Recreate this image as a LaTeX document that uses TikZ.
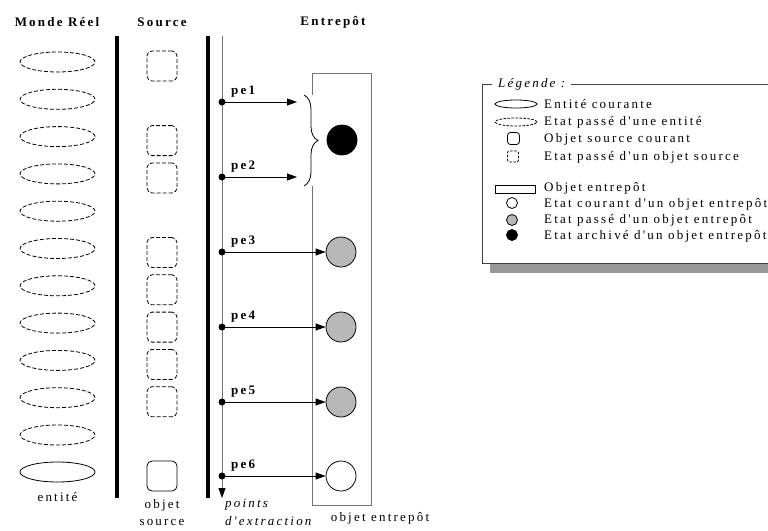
\documentclass[tikz,border=0pt]{standalone}
\usepackage{fontspec}
\setmainfont{Liberation Serif}[LetterSpace=17,Ligatures=TeXOff]
\usepackage{xcolor}
\usetikzlibrary{arrows.meta}
\usetikzlibrary{shapes.geometric}
\usetikzlibrary{decorations.pathreplacing}
\usetikzlibrary{positioning}

\definecolor{pastgray}{gray}{0.72}
\definecolor{linegray}{gray}{0.45}
\definecolor{shadowgray}{gray}{0.6}

\begin{document}
\begin{tikzpicture}[x=1pt,y=-1pt]
    \tikzstyle{every node}=[font=\fontsize{13}{15}\selectfont,inner sep=0pt,node distance=10pt]
    \tikzstyle{head}=[font=\fontsize{13}{15}\selectfont\bfseries]
    \tikzstyle{ent}=[draw=black,line width=0.8pt,ellipse,minimum width=75pt,minimum height=20pt]
    \tikzstyle{src}=[draw=black,line width=0.8pt,rounded corners=5pt,minimum size=30pt]
    \tikzstyle{past}=[dash pattern=on 4pt off 2pt]
    \tikzstyle{smallpast}=[dash pattern=on 2.5pt off 1.5pt]
    \tikzstyle{wstate}=[draw=black,line width=0.8pt,circle,minimum size=30pt]
    \tikzstyle{dot}=[fill=black,circle,minimum size=7pt]
    \tikzstyle{pe}=[-{Triangle[length=10pt,width=7pt]},line width=0.8pt]
    \tikzstyle{sep}=[line width=3.5pt]
    \tikzstyle{key}=[draw=black,line width=0.8pt]

    \clip (0,0) rectangle (768,530);

    % titres
    \node[head] (hmonde) at (57,22) {Monde Réel};
    \node[head] (hsource) at (162,22) {Source};
    \node[head] (hentrepot) at (333,22) {Entrepôt};

    \draw[sep] (117,36) -- (117,498);
    \draw[sep] (208,36) -- (208,498);

    % monde reel
    \foreach \i in {0,...,10}
      \node[ent,past] (e\i) at (57.5,62+37.3*\i) {};
    \node[ent] (e11) at (57.5,472) {};
    \node[below=of e11] (lent) {entité};

    % source
    \foreach \i in {0,2,3,5,6,7,8,9}
      \node[src,past] (s\i) at (162,66+37.3*\i) {};
    \node[src] (s11) at (162,476) {};
    \node[below=8pt of s11,align=center,font=\fontsize{13}{17}\selectfont] (lsrc) {objet\\source};

    % entrepot
    \node[draw=linegray,line width=0.8pt,minimum width=59pt,minimum height=432pt] (box) at (341.5,289) {};
    \node (lbox) at (380,518) {objet entrepôt};
    \node[wstate,fill=black] (c1) at (342,140) {};
    \foreach \i/\y in {3/252,4/327,5/402}
      \node[wstate,fill=pastgray] (c\i) at (341,\y) {};
    \node[wstate,fill=white] (c6) at (341,476) {};

    % points d'extraction
    \coordinate (t0) at (222,36);
    \coordinate (t1) at (222,498);
    \draw[linegray,line width=0.8pt,-{Triangle[length=10pt,width=7pt,color=black]}] (t0) -- (t1);
    \foreach \i/\y in {1/102,2/177,3/252,4/327,5/402,6/476}{
      \node[dot] (p\i) at (222,\y) {};
      \node[head,anchor=west] (l\i) at (231,\y-10) {pe\i};
    }
    \node[anchor=west,align=left,font=\fontsize{13}{18}\selectfont\itshape] (lpts) at (225,512) {points\\d'extraction};

    \coordinate (a1) at (297,102);
    \coordinate (a2) at (297,177);
    \draw[pe] (p1.center) -- (a1);
    \draw[pe] (p2.center) -- (a2);
    \foreach \i in {3,...,6}
      \draw[pe] (p\i.center) -- (c\i.west);

    \coordinate (b1) at (304,95);
    \coordinate (b2) at (304,186);
    \fill[white] (309,95) rectangle (315,186);
    \draw[decorate,decoration={brace,amplitude=14pt},line width=0.8pt] (b1) -- (b2);

    % legende
    \fill[shadowgray] (490,263) rectangle (780,273);
    \draw[draw=black!75,line width=0.8pt,fill=white] (482,84) rectangle (780,263);
    \node[fill=white,inner xsep=6pt,anchor=west,font=\fontsize{13}{15}\selectfont\itshape] (lgd) at (492,84) {Légende :};

    \node[key,ellipse,minimum width=42pt,minimum height=8pt] (k1) at (516,104) {};
    \node[key,smallpast,ellipse,minimum width=42pt,minimum height=8pt] (k2) at (516,122) {};
    \node[key,rounded corners=3pt,minimum size=12pt] (k3) at (513.5,138.5) {};
    \node[key,smallpast,rounded corners=2pt,minimum size=11pt] (k4) at (513,156.5) {};
    \node[key,minimum width=40pt,minimum height=8pt] (k5) at (515,189) {};
    \node[key,circle,minimum size=11pt] (k6) at (512,203) {};
    \node[key,circle,fill=pastgray,minimum size=11pt] (k7) at (512,220) {};
    \node[key,circle,fill=black,minimum size=11pt] (k8) at (512,235) {};

    \foreach \y/\t [count=\n] in {104/Entité courante,122/Etat passé d'une entité,139/Objet source courant,157/Etat passé d'un objet source,188/Objet entrepôt,204/Etat courant d'un objet entrepôt,220/Etat passé d'un objet entrepôt,236/Etat archivé d'un objet entrepôt}
      \node[anchor=west] (txt\n) at (544,\y) {\t};

\end{tikzpicture}
\end{document}
